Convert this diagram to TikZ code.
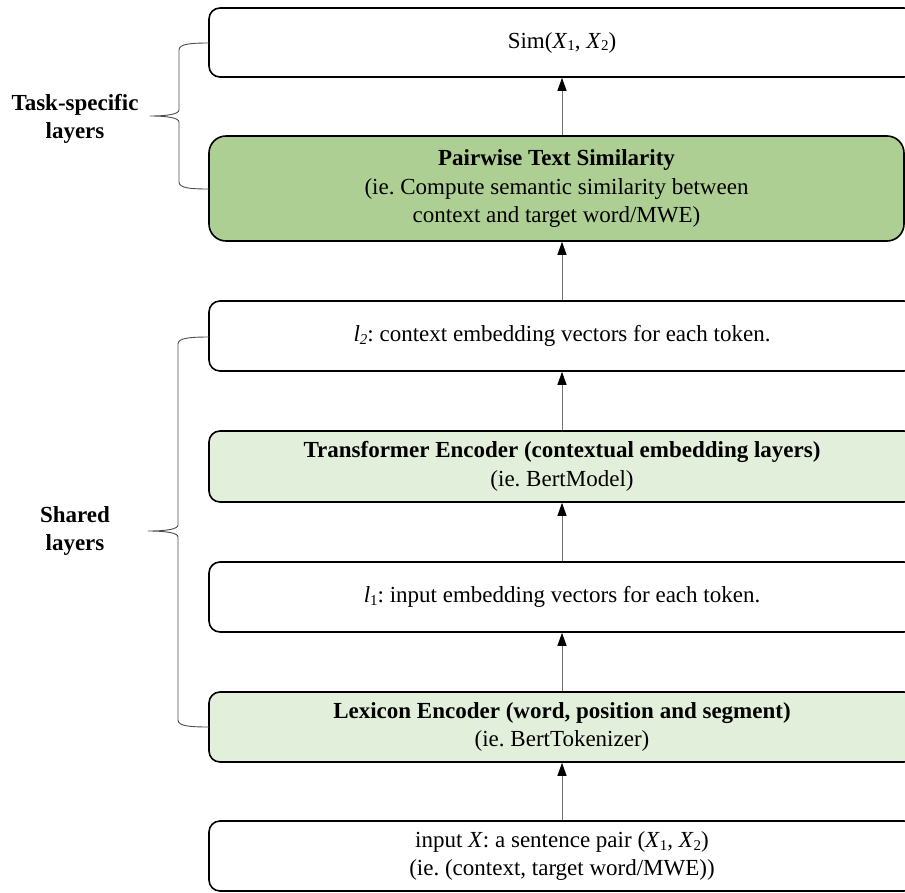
\documentclass[tikz,border=0pt]{standalone}
\usepackage{fontspec}
\setmainfont{Liberation Serif}
\usetikzlibrary{arrows.meta}
\definecolor{darkgreen}{HTML}{AECF93}
\definecolor{lightgreen}{HTML}{E2EFDA}
\newcommand\mysub[1]{\raisebox{-0.28ex}{\fontsize{15}{15}\selectfont #1}}
\frenchspacing
\begin{document}
\begin{tikzpicture}[x=1pt,y=-1pt,
  box/.style={draw=black, line width=1.6pt, rounded corners=11pt, minimum width=706pt,
    align=center, inner sep=0pt, font=\fontsize{23}{28.5}\selectfont},
  arr/.style={draw=black!55, line width=1pt, -{Triangle[length=13pt,width=9pt,black]}},
  brace/.style={draw=black!70, line width=0.9pt},
  lbl/.style={align=center, font=\fontsize{23}{28.5}\selectfont\bfseries}]
\path[use as bounding box, clip] (0,0) rectangle (905,892);

\node[box, minimum height=69pt] (b1) at (562,42.5) {Sim(\textit{X}\mysub{1}, \textit{X}\mysub{2})};
\node[box, fill=darkgreen, rounded corners=17pt, minimum width=695pt, minimum height=105pt] (b2) at (556.5,188.5)
  {\textbf{Pairwise Text Similarity}\\(ie. Compute semantic similarity between\\context and target word/MWE)};
\node[box, minimum height=70pt] (b3) at (562,336) {\textit{l}\mysub{\textit{2}}: context embedding vectors for each token.};
\node[box, fill=lightgreen, minimum height=71pt] (b4) at (562,466.5)
  {\textbf{Transformer Encoder (contextual embedding layers)}\\(ie. BertModel)};
\node[box, minimum height=70pt] (b5) at (562,597) {\textit{l}\mysub{1}: input embedding vectors for each token.};
\node[box, fill=lightgreen, minimum height=70pt] (b6) at (562,727)
  {\textbf{Lexicon Encoder (word, position and segment)}\\(ie. BertTokenizer)};
\node[box, minimum height=70pt] (b7) at (562,856)
  {input \textit{X}: a sentence pair (\textit{X}\mysub{1}, \textit{X}\mysub{2})\\(ie. (context, target word/MWE))};

\draw[arr] (b2.north -| b1.south) -- (b1.south);
\draw[arr] (b3.north) -- (b3.north |- b2.south);
\draw[arr] (b4.north) -- (b3.south);
\draw[arr] (b5.north) -- (b4.south);
\draw[arr] (b6.north) -- (b5.south);
\draw[arr] (b7.north) -- (b6.south);

% braces
\coordinate (t1) at (209,43);
\coordinate (t2) at (209,189);
\coordinate (s1) at (209,337);
\coordinate (s2) at (209,727);
\draw[brace] (t1) .. controls (190,43) and (179,44) .. (179,50) -- (179,110)
  .. controls (179,114) and (168,116) .. (150,116)
  .. controls (168,116) and (179,118) .. (179,122) -- (179,182)
  .. controls (179,188) and (190,189) .. (t2);
\draw[brace] (s1) .. controls (190,337) and (178,338) .. (178,344) -- (178,525)
  .. controls (178,529) and (167,531) .. (148,531)
  .. controls (167,531) and (178,533) .. (178,537) -- (178,720)
  .. controls (178,726) and (190,727) .. (s2);

\node[lbl] (task) at (75,119) {Task-specific\\layers};
\node[lbl] (shared) at (75,531) {Shared\\layers};
\end{tikzpicture}
\end{document}
